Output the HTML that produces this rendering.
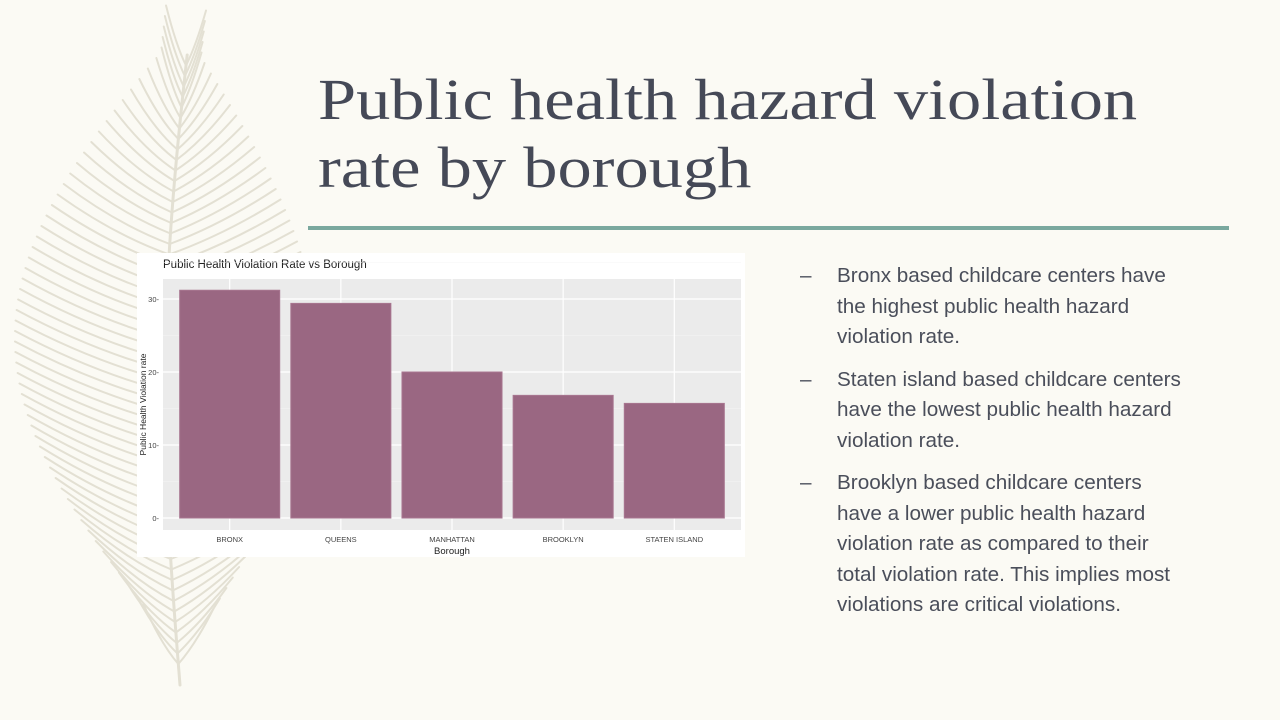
<!DOCTYPE html>
<html><head><meta charset="utf-8">
<style>
html,body{margin:0;padding:0}
body{width:1280px;height:720px;background:#fbfaf4;position:relative;overflow:hidden;font-family:"Liberation Sans",sans-serif}
#feather{position:absolute;left:0;top:0;opacity:0.75}
#title{position:absolute;left:318px;top:66px;font-family:"Liberation Serif",serif;font-size:58px;line-height:68px;color:#454957;margin:0;font-weight:normal;transform:scaleX(1.18);transform-origin:0 0;white-space:nowrap}
#rule{position:absolute;left:308px;top:226px;width:921px;height:4px;background:#7aa89e}
#chart{position:absolute;left:137px;top:253px;width:608px;height:304px;background:#fff}
ul{position:absolute;left:800px;top:261px;margin:0;padding:0;list-style:none;width:440px;color:#4a4e5a;font-size:20.7px;line-height:30.5px;white-space:nowrap}
li{position:relative;padding-left:37px;margin-bottom:12px}
li .dash{position:absolute;left:0;top:0}
</style></head>
<body>
<svg id="feather" width="420" height="720"></svg>
<h1 id="title">Public health hazard violation<br>rate by borough</h1>
<div id="rule"></div>
<div id="chart">
<svg id="cs" width="608" height="304"></svg>
</div>
<ul>
<li><span class="dash">–</span>Bronx based childcare centers have<br>the highest public health hazard<br>violation rate.</li>
<li><span class="dash">–</span>Staten island based childcare centers<br>have the lowest public health hazard<br>violation rate.</li>
<li><span class="dash">–</span>Brooklyn based childcare centers<br>have a lower public health hazard<br>violation rate as compared to their<br>total violation rate. This implies most<br>violations are critical violations.</li>
</ul>
<script>
const categories=["BRONX","QUEENS","MANHATTAN","BROOKLYN","STATEN ISLAND"];
const values=[31.2,29.4,20.0,16.8,15.7];
const yTicks=[0,10,20,30];
const NS="http://www.w3.org/2000/svg";
function mk(p,t,a){const e=document.createElementNS(NS,t);for(const k in a)e.setAttribute(k,a[k]);p.appendChild(e);return e;}
(function(){
const f=document.getElementById('feather');
const g=mk(f,'g',{stroke:'#dcd8c8',fill:'none','stroke-linecap':'round'});


function stem(t){return [180-20*Math.sin(t*3)+10*t,685-630*t];}
let d='M';for(let i=0;i<=40;i++){const p=stem(i/40);d+=p[0]+' '+p[1]+' ';}
mk(g,'path',{d:d,'stroke-width':3});
for(let i=2;i<60;i++){const t=i/60;const p=stem(t);const w=Math.sin(Math.PI*Math.min(1,t*1.1))*130+20;
mk(g,'path',{d:`M${p[0]} ${p[1]} Q${p[0]-w*0.5} ${p[1]-20} ${p[0]-w} ${p[1]-60}`,'stroke-width':2});
mk(g,'path',{d:`M${p[0]} ${p[1]} Q${p[0]+w*0.5} ${p[1]-20} ${p[0]+w} ${p[1]-55}`,'stroke-width':2});}
})();
const s=document.getElementById('cs');
const PL=26,PR=604,PT=26,PB=277,Y0=265,YK=7.3;
const y=v=>Y0-v*YK;
const band=(PR-PL)/(categories.length+0.2);
const x=i=>PL+band*(i+0.6);
mk(s,'text',{x:26,y:15,'font-size':11.5,fill:'#222','font-family':'Liberation Sans, sans-serif'}).textContent='Public Health Violation Rate vs Borough';
const panel=mk(s,'rect',{x:PL,y:PT,width:PR-PL,height:PB-PT,fill:'#ebebeb'});


yTicks.forEach(v=>{mk(s,'line',{x1:PL,x2:PR,y1:y(v),y2:y(v),stroke:'#fff','stroke-width':1.2});
mk(s,'line',{x1:PL,x2:PR,y1:y(v+5),y2:y(v+5),stroke:'#f5f5f5','stroke-width':0.6});
const t=mk(s,'text',{x:PL-4,y:y(v)+3,'font-size':7.5,fill:'#444','text-anchor':'end','font-family':'Liberation Sans, sans-serif'});t.textContent=v+'-';
});
categories.forEach((c,i)=>{mk(s,'line',{x1:x(i),x2:x(i),y1:PT,y2:PB,stroke:'#fff','stroke-width':1.2});
const b=mk(s,'rect',{x:x(i)-band*0.45,y:y(values[i]),width:band*0.9,height:y(0)-y(values[i]),fill:'#9a6782',stroke:'#a87690','stroke-width':1});


const t=mk(s,'text',{x:x(i),y:PB+12,'font-size':7.5,fill:'#444','text-anchor':'middle','font-family':'Liberation Sans, sans-serif'});t.textContent=c;
});
const xt=mk(s,'text',{x:(PL+PR)/2,y:PB+24,'font-size':9.5,fill:'#222','text-anchor':'middle','font-family':'Liberation Sans, sans-serif'});xt.textContent='Borough';

const yt=mk(s,'text',{x:0,y:0,'font-size':8.5,fill:'#222','text-anchor':'middle','font-family':'Liberation Sans, sans-serif',transform:`translate(9,${(PT+PB)/2}) rotate(-90)`});yt.textContent='Public Health Violation rate';

</script>
</body></html>
